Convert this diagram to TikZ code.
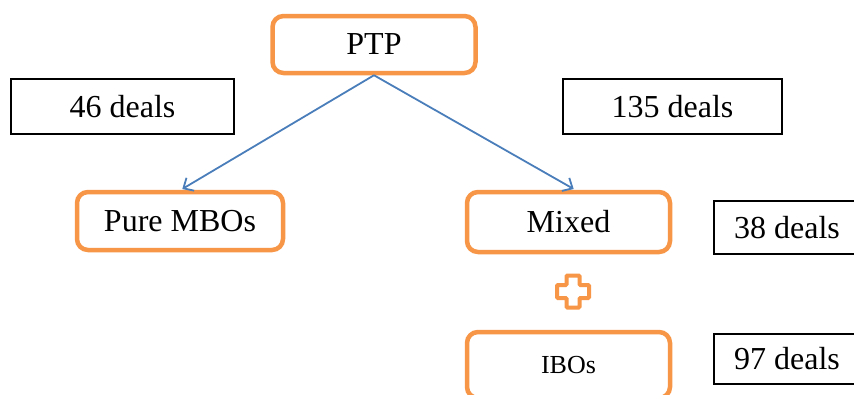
\documentclass[tikz,border=0pt]{standalone}
\usepackage{fontspec}
\setmainfont{Liberation Serif}
\usetikzlibrary{arrows.meta}
\definecolor{boxorange}{RGB}{247,150,70}
\definecolor{linkblue}{RGB}{74,126,187}
\begin{document}
\begin{tikzpicture}[x=1pt,y=-1pt]
                \useasboundingbox (0,0) rectangle (854,394);
                \begin{scope}[every node/.style={draw=boxorange, line width=4.5pt, rounded corners=11pt, fill=white, minimum width=203pt, inner sep=0pt, font=\fontsize{32}{38}\selectfont}]
                        \node[minimum height=57pt] (PTP) at (374,44.5) {PTP};
                        \node[minimum width=206pt, minimum height=58pt] (MBO) at (180,221) {Pure MBOs};
                        \node[minimum height=60pt] (Mix) at (568.5,222) {Mixed};
                        \node[minimum height=66pt, font=\fontsize{26}{31}\selectfont] (IBO) at (568.5,365) {IBOs};
                \end{scope}
                \begin{scope}[every node/.style={draw=black, line width=1.3pt, inner sep=0pt, minimum height=55pt, font=\fontsize{32}{38}\selectfont}]
                        \node[minimum width=223pt] (N46) at (122.5,106.5) {46 deals};
                        \node[minimum width=219pt] (N135) at (672.5,106.5) {135 deals};
                        \node[minimum width=146pt, minimum height=53pt] (N38) at (787,227.5) {38 deals};
                        \node[minimum width=146pt, minimum height=50pt] (N97) at (787,359) {97 deals};
                \end{scope}
                % plus sign between Mixed and IBOs
                \coordinate (plus) at (573,291.5);
                \draw[boxorange, line width=4pt, fill=white, rounded corners=1pt, shift={(plus)}]
                        (-6.5,-16) -- (6.5,-16) -- (6.5,-6.5) -- (16,-6.5) -- (16,6.5) -- (6.5,6.5)
                        -- (6.5,16) -- (-6.5,16) -- (-6.5,6.5) -- (-16,6.5) -- (-16,-6.5) -- (-6.5,-6.5) -- cycle;
                \begin{scope}[every path/.style={linkblue, line width=1.8pt, ->, >={Straight Barb[length=8pt,width=15pt]}}]
                        \path (PTP.south) edge[shorten >=1.5pt] ([xshift=1pt]MBO.north);
                        \path (PTP.south) edge[shorten >=1.5pt] ([xshift=6.5pt]Mix.north);
                \end{scope}
        \end{tikzpicture}
\end{document}
